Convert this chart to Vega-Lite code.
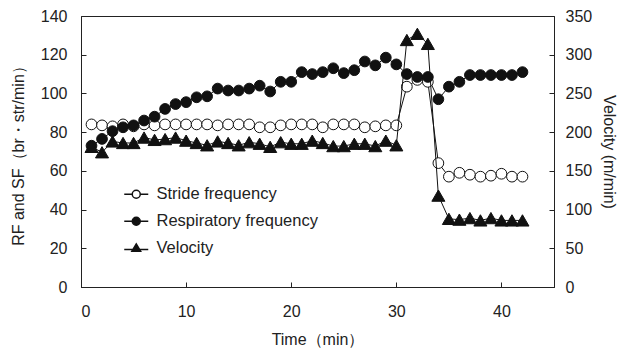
{
  "$schema": "https://vega.github.io/schema/vega-lite/v6.json",
  "width": 473,
  "height": 271,
  "autosize": {"type": "none"},
  "padding": {"left": 81, "top": 16, "right": 71, "bottom": 64},
  "background": "white",
  "config": {
    "font": "Liberation Sans",
    "view": {"stroke": "#222222", "strokeWidth": 1},
    "axis": {
      "grid": false,
      "domainColor": "#222222",
      "tickColor": "#222222",
      "tickSize": -5,
      "labelFont": "Liberation Sans",
      "labelFontSize": 16,
      "labelColor": "#222222",
      "titleFont": "Liberation Sans",
      "titleFontSize": 16,
      "titleFontWeight": "normal",
      "titleColor": "#222222"
    },
    "legend": {
      "labelFont": "Liberation Sans",
      "labelFontSize": 16.5,
      "labelColor": "#222222",
      "labelLimit": 400
    }
  },
  "datasets": {
    "d": [
      {"t": 1, "series": "Respiratory frequency", "value": 73},
      {"t": 2, "series": "Respiratory frequency", "value": 76.5},
      {"t": 3, "series": "Respiratory frequency", "value": 80.5},
      {"t": 4, "series": "Respiratory frequency", "value": 82.5},
      {"t": 5, "series": "Respiratory frequency", "value": 83.5},
      {"t": 6, "series": "Respiratory frequency", "value": 86},
      {"t": 7, "series": "Respiratory frequency", "value": 88},
      {"t": 8, "series": "Respiratory frequency", "value": 92},
      {"t": 9, "series": "Respiratory frequency", "value": 94.5},
      {"t": 10, "series": "Respiratory frequency", "value": 95.5},
      {"t": 11, "series": "Respiratory frequency", "value": 98},
      {"t": 12, "series": "Respiratory frequency", "value": 98.5},
      {"t": 13, "series": "Respiratory frequency", "value": 102.5},
      {"t": 14, "series": "Respiratory frequency", "value": 101.5},
      {"t": 15, "series": "Respiratory frequency", "value": 101.5},
      {"t": 16, "series": "Respiratory frequency", "value": 102.5},
      {"t": 17, "series": "Respiratory frequency", "value": 104},
      {"t": 18, "series": "Respiratory frequency", "value": 101},
      {"t": 19, "series": "Respiratory frequency", "value": 106},
      {"t": 20, "series": "Respiratory frequency", "value": 106},
      {"t": 21, "series": "Respiratory frequency", "value": 111},
      {"t": 22, "series": "Respiratory frequency", "value": 110},
      {"t": 23, "series": "Respiratory frequency", "value": 111},
      {"t": 24, "series": "Respiratory frequency", "value": 113},
      {"t": 25, "series": "Respiratory frequency", "value": 110.5},
      {"t": 26, "series": "Respiratory frequency", "value": 112},
      {"t": 27, "series": "Respiratory frequency", "value": 116.5},
      {"t": 28, "series": "Respiratory frequency", "value": 114.5},
      {"t": 29, "series": "Respiratory frequency", "value": 118.5},
      {"t": 30, "series": "Respiratory frequency", "value": 115},
      {"t": 31, "series": "Respiratory frequency", "value": 110},
      {"t": 32, "series": "Respiratory frequency", "value": 108.5},
      {"t": 33, "series": "Respiratory frequency", "value": 108.5},
      {"t": 34, "series": "Respiratory frequency", "value": 97},
      {"t": 35, "series": "Respiratory frequency", "value": 103.5},
      {"t": 36, "series": "Respiratory frequency", "value": 106},
      {"t": 37, "series": "Respiratory frequency", "value": 109.5},
      {"t": 38, "series": "Respiratory frequency", "value": 109.5},
      {"t": 39, "series": "Respiratory frequency", "value": 109.5},
      {"t": 40, "series": "Respiratory frequency", "value": 109.5},
      {"t": 41, "series": "Respiratory frequency", "value": 109.5},
      {"t": 42, "series": "Respiratory frequency", "value": 111},
      {"t": 1, "series": "Stride frequency", "value": 84},
      {"t": 2, "series": "Stride frequency", "value": 83.5},
      {"t": 3, "series": "Stride frequency", "value": 83},
      {"t": 4, "series": "Stride frequency", "value": 84},
      {"t": 5, "series": "Stride frequency", "value": 83},
      {"t": 6, "series": "Stride frequency", "value": 84},
      {"t": 7, "series": "Stride frequency", "value": 83.5},
      {"t": 8, "series": "Stride frequency", "value": 84},
      {"t": 9, "series": "Stride frequency", "value": 84},
      {"t": 10, "series": "Stride frequency", "value": 84},
      {"t": 11, "series": "Stride frequency", "value": 84},
      {"t": 12, "series": "Stride frequency", "value": 84},
      {"t": 13, "series": "Stride frequency", "value": 83.5},
      {"t": 14, "series": "Stride frequency", "value": 84},
      {"t": 15, "series": "Stride frequency", "value": 84},
      {"t": 16, "series": "Stride frequency", "value": 84},
      {"t": 17, "series": "Stride frequency", "value": 82.5},
      {"t": 18, "series": "Stride frequency", "value": 82.5},
      {"t": 19, "series": "Stride frequency", "value": 83.5},
      {"t": 20, "series": "Stride frequency", "value": 84},
      {"t": 21, "series": "Stride frequency", "value": 84},
      {"t": 22, "series": "Stride frequency", "value": 84},
      {"t": 23, "series": "Stride frequency", "value": 82.5},
      {"t": 24, "series": "Stride frequency", "value": 84},
      {"t": 25, "series": "Stride frequency", "value": 84},
      {"t": 26, "series": "Stride frequency", "value": 84},
      {"t": 27, "series": "Stride frequency", "value": 82.5},
      {"t": 28, "series": "Stride frequency", "value": 83},
      {"t": 29, "series": "Stride frequency", "value": 83.5},
      {"t": 30, "series": "Stride frequency", "value": 83.5},
      {"t": 31, "series": "Stride frequency", "value": 103.5},
      {"t": 32, "series": "Stride frequency", "value": 107},
      {"t": 33, "series": "Stride frequency", "value": 106},
      {"t": 34, "series": "Stride frequency", "value": 64},
      {"t": 35, "series": "Stride frequency", "value": 57},
      {"t": 36, "series": "Stride frequency", "value": 59},
      {"t": 37, "series": "Stride frequency", "value": 58},
      {"t": 38, "series": "Stride frequency", "value": 57},
      {"t": 39, "series": "Stride frequency", "value": 57.5},
      {"t": 40, "series": "Stride frequency", "value": 58.5},
      {"t": 41, "series": "Stride frequency", "value": 57},
      {"t": 42, "series": "Stride frequency", "value": 57},
      {"t": 1, "series": "Velocity", "value": 181},
      {"t": 2, "series": "Velocity", "value": 174},
      {"t": 3, "series": "Velocity", "value": 188},
      {"t": 4, "series": "Velocity", "value": 186},
      {"t": 5, "series": "Velocity", "value": 186},
      {"t": 6, "series": "Velocity", "value": 193},
      {"t": 7, "series": "Velocity", "value": 190},
      {"t": 8, "series": "Velocity", "value": 191},
      {"t": 9, "series": "Velocity", "value": 193},
      {"t": 10, "series": "Velocity", "value": 189},
      {"t": 11, "series": "Velocity", "value": 186},
      {"t": 12, "series": "Velocity", "value": 183},
      {"t": 13, "series": "Velocity", "value": 188},
      {"t": 14, "series": "Velocity", "value": 186},
      {"t": 15, "series": "Velocity", "value": 183},
      {"t": 16, "series": "Velocity", "value": 187},
      {"t": 17, "series": "Velocity", "value": 185},
      {"t": 18, "series": "Velocity", "value": 181},
      {"t": 19, "series": "Velocity", "value": 187},
      {"t": 20, "series": "Velocity", "value": 185},
      {"t": 21, "series": "Velocity", "value": 185},
      {"t": 22, "series": "Velocity", "value": 189},
      {"t": 23, "series": "Velocity", "value": 186},
      {"t": 24, "series": "Velocity", "value": 182},
      {"t": 25, "series": "Velocity", "value": 182},
      {"t": 26, "series": "Velocity", "value": 185},
      {"t": 27, "series": "Velocity", "value": 185},
      {"t": 28, "series": "Velocity", "value": 182},
      {"t": 29, "series": "Velocity", "value": 189},
      {"t": 30, "series": "Velocity", "value": 183},
      {"t": 31, "series": "Velocity", "value": 319},
      {"t": 32, "series": "Velocity", "value": 327},
      {"t": 33, "series": "Velocity", "value": 314},
      {"t": 34, "series": "Velocity", "value": 118},
      {"t": 35, "series": "Velocity", "value": 88},
      {"t": 36, "series": "Velocity", "value": 87},
      {"t": 37, "series": "Velocity", "value": 89},
      {"t": 38, "series": "Velocity", "value": 86},
      {"t": 39, "series": "Velocity", "value": 89},
      {"t": 40, "series": "Velocity", "value": 86},
      {"t": 41, "series": "Velocity", "value": 86},
      {"t": 42, "series": "Velocity", "value": 86}
    ]
  },
  "data": {"name": "d"},
  "encoding": {
    "x": {
      "field": "t",
      "type": "quantitative",
      "scale": {"domain": [0, 45], "nice": false, "zero": false},
      "axis": {"values": [0, 10, 20, 30, 40], "title": "Time（min）", "labelPadding": 21, "titlePadding": 12}
    }
  },
  "layer": [
    {
      "transform": [{"filter": "datum.series !== 'Velocity'"}],
      "encoding": {
        "y": {
          "field": "value",
          "type": "quantitative",
          "scale": {"domain": [0, 140], "nice": false},
          "axis": {"orient": "left", "values": [0, 20, 40, 60, 80, 100, 120, 140], "title": "RF and SF（br・str/min）", "labelPadding": 19, "titlePadding": 14}
        }
      },
      "layer": [
        {
          "mark": {"type": "line", "color": "#111111", "strokeWidth": 1},
          "encoding": {"detail": {"field": "series", "type": "nominal"}}
        },
        {
          "transform": [{"filter": "datum.series === 'Stride frequency'"}],
          "mark": {"type": "point", "shape": "circle", "size": 115, "fill": "#ffffff", "stroke": "#111111", "strokeWidth": 1, "opacity": 1},
          "encoding": {}
        },
        {
          "transform": [{"filter": "datum.series === 'Respiratory frequency'"}],
          "mark": {"type": "point", "shape": "circle", "size": 115, "fill": "#111111", "stroke": "#111111", "strokeWidth": 1, "opacity": 1},
          "encoding": {}
        },
        {
          "transform": [{"filter": "datum.series === 'Legend only'"}],
          "mark": {"type": "point", "filled": true, "stroke": "#111111", "strokeWidth": 1, "opacity": 1},
          "encoding": {
            "shape": {"field": "series", "type": "nominal", "scale": {"domain": ["Stride frequency", "Respiratory frequency", "Velocity"], "range": ["M-3,0H-1M1,0H3M1,0A1,1 0 1 1 -1,0A1,1 0 1 1 1,0Z", "M-3,0H3M1,0A1,1 0 1 1 -1,0A1,1 0 1 1 1,0Z", "M-3,0.3H3M0,-1.1L1.1,0.75L-1.1,0.75Z"]}, "legend": {
              "title": null,
              "orient": "none",
              "legendX": 47,
              "legendY": 170,
              "padding": 0,
              "symbolSize": 64,
              "labelOffset": 12,
              "rowPadding": 10,
              "encode": {"symbols": {
                "stroke": {"value": "#111111"},
                "strokeWidth": {"value": 1},
                "opacity": {"value": 1}
              }}
            }},
            "fill": {"field": "series", "type": "nominal", "scale": {"domain": ["Stride frequency", "Respiratory frequency", "Velocity"], "range": ["#ffffff", "#111111", "#111111"]}, "legend": {
              "title": null,
              "orient": "none",
              "legendX": 47,
              "legendY": 170,
              "padding": 0,
              "symbolSize": 64,
              "labelOffset": 12,
              "rowPadding": 10,
              "encode": {"symbols": {
                "stroke": {"value": "#111111"},
                "strokeWidth": {"value": 1},
                "opacity": {"value": 1}
              }}
            }}
          }
        }
      ]
    },
    {
      "transform": [{"filter": "datum.series === 'Velocity'"}],
      "encoding": {
        "y": {
          "field": "value",
          "type": "quantitative",
          "scale": {"domain": [0, 350], "nice": false},
          "axis": {"orient": "right", "values": [0, 50, 100, 150, 200, 250, 300, 350], "title": "Velocity (m/min)", "labelPadding": 16, "titlePadding": 9}
        }
      },
      "layer": [
        {
          "mark": {"type": "line", "color": "#111111", "strokeWidth": 1},
          "encoding": {}
        },
        {
          "mark": {"type": "point", "shape": "triangle-up", "size": 170, "fill": "#111111", "stroke": "#111111", "strokeWidth": 1, "opacity": 1},
          "encoding": {}
        }
      ]
    }
  ],
  "resolve": {"scale": {"y": "independent"}}
}
